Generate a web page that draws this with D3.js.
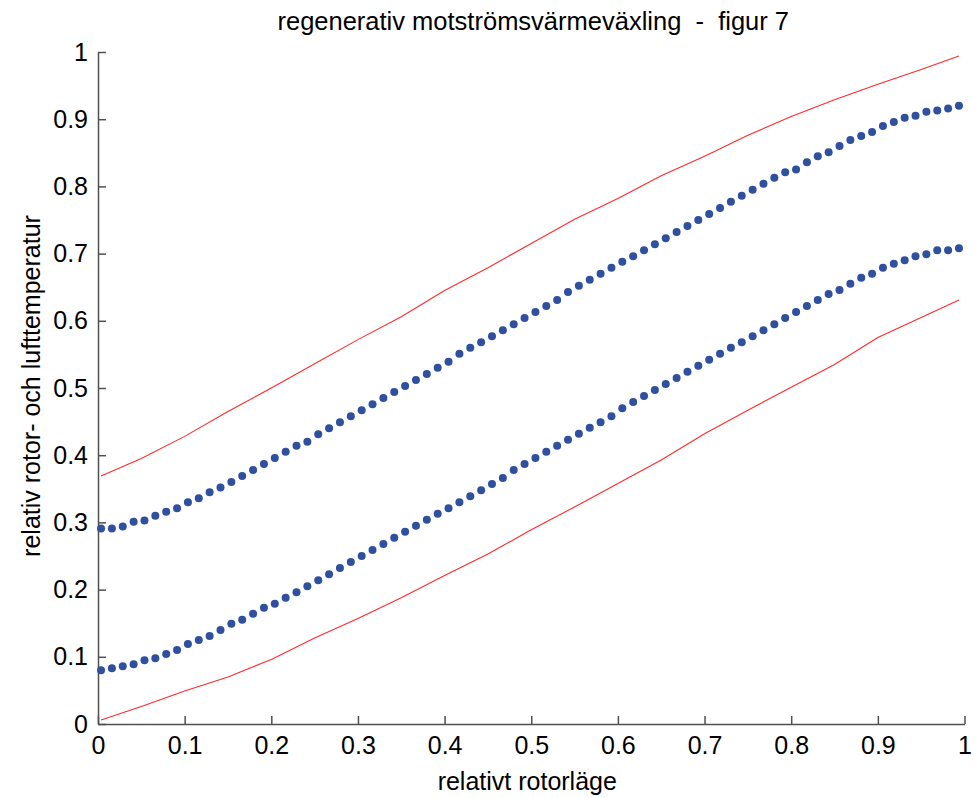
<!DOCTYPE html>
<html>
<head>
<meta charset="utf-8">
<script src="https://cdn.jsdelivr.net/npm/d3@7"></script>
<style>
  body { margin: 0; background: #fff; }
  text { font-family: "Liberation Sans", Arial, sans-serif; fill: #000; }
  .axis path, .axis line { stroke: #505050; stroke-width: 1.5; }
  .axis text { font-size: 25px; font-family: "Liberation Sans", Arial, sans-serif; fill: #000; }
</style>
</head>
<body>
<div id="chart"></div>
<script>
// Defining SVG Area
var svgWidth = 975;
var svgHeight = 798;

// Declaring Margin
var margin = { top: 52, right: 10.5, bottom: 74, left: 98 };

var width = svgWidth - margin.left - margin.right;
var height = svgHeight - margin.top - margin.bottom;

// Tick values (both axes)
var ticks = [0, 0.1, 0.2, 0.3, 0.4, 0.5, 0.6, 0.7, 0.8, 0.9, 1];

// rotor positions of the dotted series: 80 samples between 0.0035 and 0.9936
var rotorPos = d3.range(80).map(i => 0.0035 + i * 0.012533);

// Dotted series (rotor temperature)
var rotorUpper = [0.291, 0.291, 0.294, 0.301, 0.303, 0.310, 0.316, 0.321, 0.330, 0.336,
    0.345, 0.352, 0.360, 0.369, 0.378, 0.387, 0.396, 0.405, 0.414, 0.420,
    0.431, 0.440, 0.449, 0.458, 0.467, 0.476, 0.485, 0.494, 0.503, 0.512,
    0.521, 0.530, 0.539, 0.551, 0.560, 0.568, 0.577, 0.586, 0.595, 0.604,
    0.613, 0.622, 0.631, 0.643, 0.652, 0.661, 0.670, 0.679, 0.688, 0.696,
    0.705, 0.714, 0.723, 0.732, 0.741, 0.750, 0.759, 0.768, 0.777, 0.786,
    0.795, 0.804, 0.813, 0.821, 0.825, 0.836, 0.845, 0.851, 0.860, 0.869,
    0.875, 0.881, 0.890, 0.896, 0.902, 0.905, 0.911, 0.913, 0.916, 0.920];

var rotorLower = [0.080, 0.083, 0.086, 0.089, 0.095, 0.098, 0.104, 0.110, 0.119, 0.125,
    0.131, 0.140, 0.149, 0.155, 0.164, 0.173, 0.179, 0.188, 0.196, 0.205,
    0.214, 0.223, 0.232, 0.241, 0.250, 0.259, 0.268, 0.277, 0.286, 0.295,
    0.304, 0.313, 0.321, 0.330, 0.339, 0.348, 0.357, 0.366, 0.378, 0.387,
    0.396, 0.405, 0.414, 0.423, 0.432, 0.441, 0.449, 0.458, 0.470, 0.479,
    0.488, 0.497, 0.506, 0.515, 0.524, 0.533, 0.542, 0.551, 0.560, 0.568,
    0.577, 0.586, 0.595, 0.604, 0.613, 0.622, 0.631, 0.640, 0.646, 0.655,
    0.664, 0.670, 0.679, 0.685, 0.690, 0.696, 0.699, 0.705, 0.705, 0.708];

// Red lines (air temperature)
var airPos = [0.0035, 0.05, 0.10, 0.15, 0.20, 0.25, 0.30, 0.35, 0.40, 0.45, 0.50,
    0.55, 0.60, 0.65, 0.70, 0.75, 0.80, 0.85, 0.90, 0.95, 0.9936];
var airUpper = [0.369, 0.395, 0.428, 0.465, 0.500, 0.536, 0.572, 0.606, 0.645, 0.679, 0.715,
    0.751, 0.782, 0.816, 0.845, 0.876, 0.904, 0.929, 0.952, 0.974, 0.994];
var airLower = [0.006, 0.026, 0.049, 0.070, 0.096, 0.128, 0.157, 0.188, 0.221, 0.253, 0.289,
    0.323, 0.358, 0.393, 0.432, 0.467, 0.501, 0.535, 0.575, 0.605, 0.631];

// Appending SVG to HTML
var svg = d3.select("#chart")
    .append("svg")
    .attr("width", svgWidth)
    .attr("height", svgHeight);

var chartGroup = svg.append("g").attr("transform", `translate(${margin.left}, ${margin.top})`);

// Scales
var xScale = d3.scaleLinear().domain([0, 1]).range([0, width]);
var yScale = d3.scaleLinear().domain([0, 1]).range([height, 0]);

var fmt = d3.format(".1~f");

// Axes, ticks pointing inward like matlab
chartGroup.append("g")
    .attr("class", "axis")
    .attr("transform", `translate(0, ${height})`)
    .call(d3.axisBottom(xScale).tickValues(ticks).tickFormat(fmt)
        .tickSizeInner(-8).tickSizeOuter(0).tickPadding(12));

chartGroup.append("g")
    .attr("class", "axis")
    .call(d3.axisLeft(yScale).tickValues(ticks).tickFormat(fmt)
        .tickSizeInner(-8).tickSizeOuter(0).tickPadding(10));

// Red lines
var line = d3.line()
    .x(d => xScale(d[0]))
    .y(d => yScale(d[1]));

[airUpper, airLower].forEach(function(series) {
    chartGroup.append("path")
        .datum(airPos.map((x, i) => [x, series[i]]))
        .attr("fill", "none")
        .attr("stroke", "#ff2a2a")
        .attr("stroke-width", 1.1)
        .attr("d", line);
});

// Dots
[rotorUpper, rotorLower].forEach(function(series) {
    chartGroup.selectAll(null)
        .data(rotorPos.map((x, i) => [x, series[i]]))
        .enter()
        .append("circle")
        .attr("cx", d => xScale(d[0]))
        .attr("cy", d => yScale(d[1]))
        .attr("r", 4)
        .attr("fill", "#2f4f9f");
});

// Title
svg.append("text")
    .attr("x", margin.left + width / 2 + 2)
    .attr("y", 30)
    .attr("text-anchor", "middle")
    .style("font-size", "25.5px")
    .style("white-space", "pre")
    .text("regenerativ motströmsvärmeväxling  -  figur 7");

// X label
svg.append("text")
    .attr("x", margin.left + width / 2 - 4)
    .attr("y", 790)
    .attr("text-anchor", "middle")
    .style("font-size", "25px")
    .text("relativt rotorläge");

// Y label
svg.append("text")
    .attr("transform", `translate(40, ${margin.top + height / 2 - 2}) rotate(-90)`)
    .attr("text-anchor", "middle")
    .style("font-size", "25px")
    .text("relativ rotor- och lufttemperatur");
</script>
</body>
</html>
